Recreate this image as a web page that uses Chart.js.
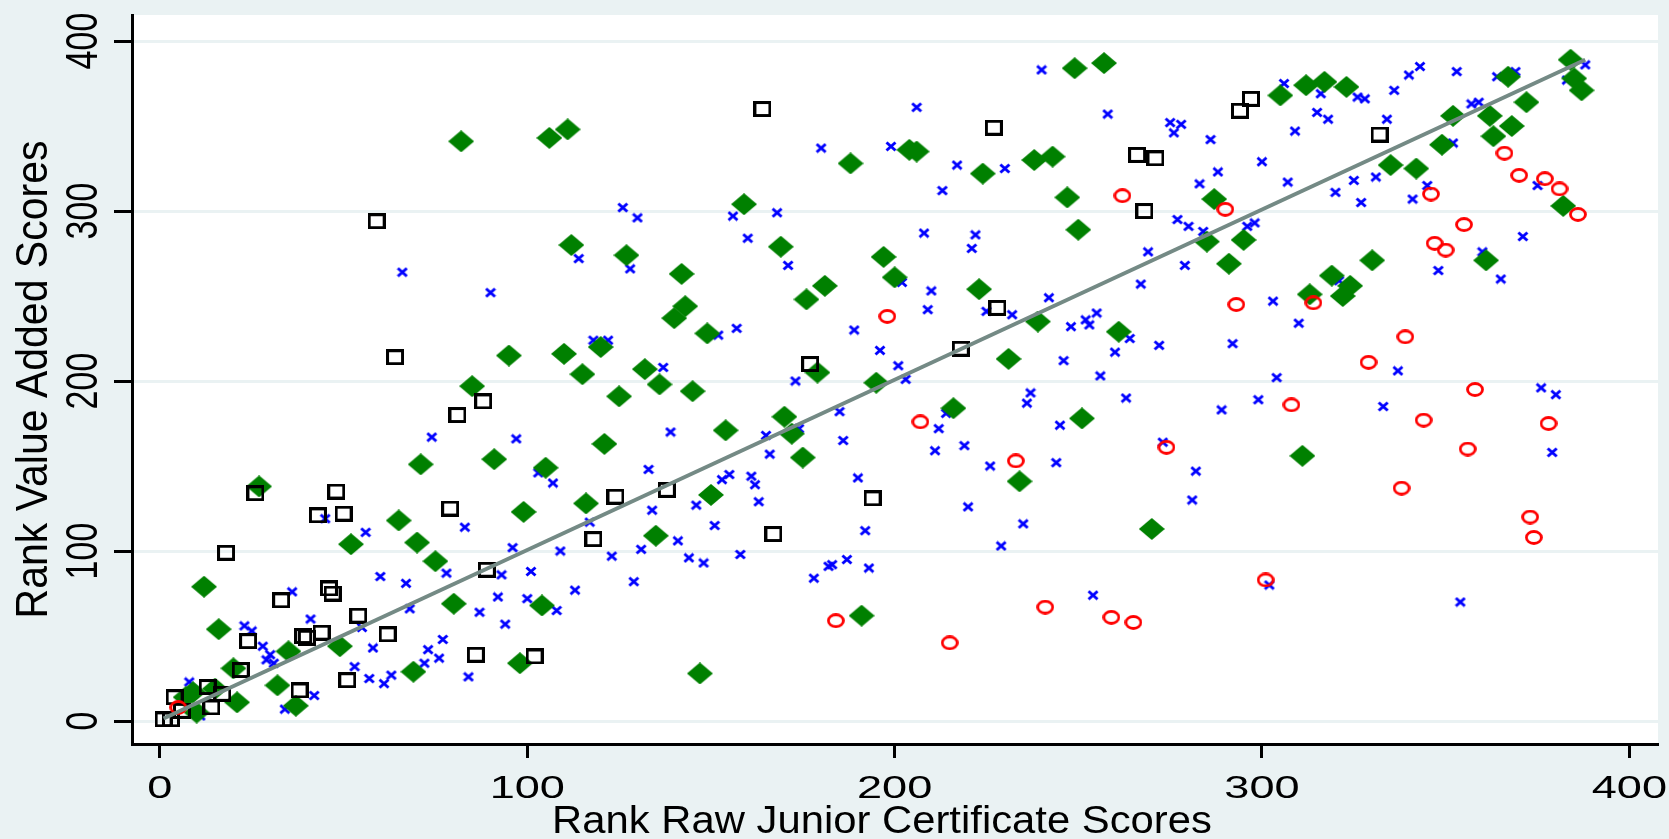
<!DOCTYPE html>
<html>
<head>
<meta charset="utf-8">
<script src="https://cdn.jsdelivr.net/npm/chart.js@4"></script>
<style>
  html, body { margin: 0; padding: 0; background: #eaf2f3; }
  #wrap { width: 1669px; height: 839px; }
</style>
</head>
<body>
<div id="wrap"><canvas id="myChart" width="1669" height="839"></canvas></div>
<script>
// ranks [raw JC score rank, value added rank] per group
const crossPts = [
  [180,337],[199,338],[126,302],[130,296],[156,297],[168,299],[160,284],[114,272],[171,268],
  [240,383],[206,361],[217,327],[230,325],[213,312],[258,357],[275,352],[278,351],[276,346],[286,342],
  [300,329],[288,323],[283,316],[208,287],[222,286],[221,278],[277,295],[280,291],[284,288],[296,291],
  [298,293],[269,276],
  [306,375],[316,369],[326,367],[328,366],[315,358],[318,354],[309,347],[336,371],[340,380],[343,385],
  [353,382],[364,379],[369,382],[388,386],[383,377],[334,354],[357,363],[359,364],[352,340],[375,315],
  [307,317],[320,311],[325,318],[331,320],[327,305],[341,307],[345,315],[371,285],[360,276],
  [66,264],[90,252],[74,167],[97,166],
  [128,266],[157,231],[152,227],[189,230],[196,218],[118,224],[122,224],[137,208],[173,200],[185,182],
  [174,172],[165,168],[186,165],[139,170],[166,157],[133,148],[103,146],[107,140],[153,142],[155,145],
  [161,144],[162,139],[190,143],[163,129],
  [279,268],[202,258],[210,253],[209,242],[225,241],[232,239],[242,249],[267,257],[248,232],[252,236],
  [253,233],[255,240],[264,225],[260,217],[272,221],[303,247],[292,222],[201,209],[203,201],[246,212],
  [256,203],[237,193],[236,187],[263,190],[289,183],[299,189],[214,181],[212,172],[245,174],[211,159],
  [219,162],[226,150],[244,152],[273,164],[282,147],[281,130],
  [348,265],[365,260],[321,259],[310,234],[337,206],[304,202],[376,196],[380,192],[333,185],[379,158],
  [45,119],[83,114],[56,111],[96,102],[78,87],[93,86],[60,85],[67,81],[36,76],[92,73],[68,66],[87,64],
  [41,60],[94,57],[23,56],[25,53],[55,55],[28,44],[30,39],[29,36],[31,34],[53,32],[58,43],[73,42],
  [77,48],[76,37],[72,34],[84,26],[57,25],[61,22],[63,27],[42,15],[34,7],[8,23],[11,3],
  [134,124],[146,127],[117,117],[109,100],[123,97],[131,101],[141,106],[151,115],[144,96],[148,93],
  [158,98],[101,88],[129,82],[100,72],[108,65],[113,77],[192,112],[178,84],[182,91],[183,92],[187,95],
  [193,90],
  [220,126],[235,116],[229,103],[302,80],[254,74],[354,70]
];
const diamondPts = [
  [82,341],[106,343],[111,348],[188,328],[159,304],[169,279],[112,280],[127,274],[197,273],
  [249,384],[257,387],[204,336],[206,335],[224,322],[238,330],[243,332],[247,308],[287,307],[250,289],
  [285,282],[295,283],[291,269],
  [305,368],[312,374],[317,376],[323,373],[367,379],[384,389],[385,378],[387,371],[352,356],[362,356],
  [372,364],[368,350],[363,344],[349,339],[382,303],[335,327],[342,325],[330,271],[361,271],
  [95,215],[85,197],[71,151],[91,154],[27,138],
  [142,263],[200,261],[181,256],[176,248],[143,244],[140,237],[149,228],[110,216],[120,220],[115,204],
  [132,207],[136,198],[145,194],[125,191],[179,205],[195,199],[170,179],[172,169],[154,171],[121,163],
  [175,155],[105,149],[150,133],[116,128],
  [223,254],[239,235],[261,229],[231,213],[216,184],[251,178],[234,141],
  [319,262],[324,256],[322,250],[313,251],[311,156],
  [65,118],[52,104],[70,105],[75,94],[12,79],[80,69],[16,54],[49,44],[35,41],[20,31],[69,29],[32,21],
  [37,9],[15,19],[9,17],[21,11],[10,5],[7,14],
  [99,123],[135,109],[104,68],[98,34],[147,28],[191,62],[270,113]
];
const squarePts = [
  [59,294],[164,360],[227,349],[266,333],[271,331],[297,366],[294,359],[268,300],[332,345],
  [64,214],[88,188],[81,180],[26,134],[48,135],[177,210],[124,132],[138,136],[194,131],[218,219],[228,243],
  [43,121],[50,122],[79,125],[18,99],[89,89],[46,78],[47,75],[33,71],[54,62],[24,47],[39,50],[40,49],
  [44,52],[62,51],[86,39],[22,30],[51,24],[38,18],[13,20],[17,16],[4,14],[14,8],[6,6],[1,1],[3,1],
  [118,107],[167,110],[102,38]
];
const ringPts = [
  [262,309],[290,301],[366,334],[370,321],[377,319],[381,313],[386,298],[346,310],[355,292],[347,281],
  [350,277],[198,238],[293,245],[207,176],[233,153],[274,161],[314,246],[339,226],[329,211],[358,195],
  [308,186],[344,177],[378,175],[356,160],[338,137],[5,8],[184,59],[301,83],[241,67],[259,61],[265,58],
  [215,46],[373,120],[374,108]
];
const fitX = [1, 388];
const fitY = [1.5, 389];

const xTicks = [0, 100, 200, 300, 400];
const yTicks = [0, 100, 200, 300, 400];
const xTitle = "Rank Raw Junior Certificate Scores";
const yTitle = "Rank Value Added Scores";

const toXY = (pts) => pts.map((p) => ({ x: p[0], y: p[1] }));

// marker glyphs (the original has slightly wide markers)
function marker(w, h, draw) {
  const c = document.createElement("canvas");
  c.width = w;
  c.height = h;
  draw(c.getContext("2d"), w, h);
  return c;
}
const diamond = marker(26, 22, (g, w, h) => {
  g.fillStyle = "#008000";
  g.beginPath();
  g.moveTo(w / 2, 0);
  g.lineTo(w, h / 2);
  g.lineTo(w / 2, h);
  g.lineTo(0, h / 2);
  g.closePath();
  g.fill();
});
const square = marker(18, 16, (g, w, h) => {
  g.strokeStyle = "#000";
  g.lineWidth = 3;
  g.strokeRect(1.5, 1.5, w - 3, h - 3);
});
const ring = marker(18, 15, (g, w, h) => {
  g.strokeStyle = "#ff0000";
  g.lineWidth = 2.8;
  g.beginPath();
  g.ellipse(w / 2, h / 2, w / 2 - 1.5, h / 2 - 1.5, 0, 0, 2 * Math.PI);
  g.stroke();
});
const cross = marker(12, 11, (g, w, h) => {
  g.strokeStyle = "#0000ff";
  g.lineWidth = 3;
  g.beginPath();
  g.moveTo(1.5, 1.5);
  g.lineTo(w - 1.5, h - 1.5);
  g.moveTo(w - 1.5, 1.5);
  g.lineTo(1.5, h - 1.5);
  g.stroke();
});

const FONT = '"Liberation Sans", Arial, sans-serif';

// draws text with a horizontal/vertical stretch like the original image
function stretchedText(ctx, str, x, y, size, sx, sy, rotate) {
  ctx.save();
  ctx.translate(x, y);
  if (rotate) ctx.rotate(-Math.PI / 2);
  ctx.scale(sx, sy);
  ctx.font = size + "px " + FONT;
  ctx.fillStyle = "#000";
  ctx.textAlign = "center";
  ctx.textBaseline = "alphabetic";
  ctx.fillText(str, 0, 0);
  ctx.restore();
}

const framePlugin = {
  id: "frame",
  beforeDraw(chart) {
    const { ctx, chartArea: a } = chart;
    ctx.save();
    ctx.fillStyle = "#eaf2f3";
    ctx.fillRect(0, 0, chart.width, chart.height);
    ctx.fillStyle = "#ffffff";
    ctx.fillRect(a.left, a.top, a.right - a.left, a.bottom - a.top);
    ctx.restore();
  },
  afterDraw(chart) {
    const ctx = chart.ctx;
    const xs = chart.scales.x;
    const ys = chart.scales.y;
    xTicks.forEach((v) => {
      stretchedText(ctx, String(v), xs.getPixelForValue(v), 798, 32, 1.41, 1, false);
    });
    yTicks.forEach((v) => {
      stretchedText(ctx, String(v), 97, ys.getPixelForValue(v), 34, 1, 1.31, true);
    });
    stretchedText(ctx, yTitle, 47, (chart.chartArea.top + chart.chartArea.bottom) / 2, 41, 1, 1.08, true);
    stretchedText(ctx, xTitle, 882, 833, 38, 1.1, 1, false);
  },
};

const ctx = document.getElementById("myChart");
new Chart(ctx, {
  type: "scatter",
  data: {
    datasets: [
      {
        type: "line",
        label: "Fitted",
        data: fitX.map((x, i) => ({ x: x, y: fitY[i] })),
        borderColor: "#748a85",
        borderWidth: 4,
        pointRadius: 0,
        fill: false,
      },
      { label: "Group 4", data: toXY(ringPts), pointStyle: ring, pointRadius: 5 },
      { label: "Group 3", data: toXY(squarePts), pointStyle: square, pointRadius: 5 },
      { label: "Group 2", data: toXY(diamondPts), pointStyle: diamond, pointRadius: 5 },
      { label: "Group 1", data: toXY(crossPts), pointStyle: cross, pointRadius: 5 },
    ],
  },
  options: {
    responsive: false,
    devicePixelRatio: 1,
    animation: false,
    layout: { padding: { top: 15, right: 11, left: 0, bottom: 0 } },
    plugins: {
      legend: { display: false },
      tooltip: { enabled: false },
    },
    scales: {
      x: {
        type: "linear",
        min: -7.6,
        max: 407.8,
        afterBuildTicks: (s) => { s.ticks = xTicks.map((v) => ({ value: v })); },
        afterFit: (s) => { s.height = 95; },
        ticks: { display: false },
        grid: {
          drawOnChartArea: false,
          drawTicks: true,
          tickLength: 14,
          tickWidth: 3,
          tickColor: "#000",
        },
        border: { display: true, color: "#000", width: 3 },
      },
      y: {
        type: "linear",
        min: -13.5,
        max: 415.3,
        afterBuildTicks: (s) => { s.ticks = yTicks.map((v) => ({ value: v })); },
        afterFit: (s) => { s.width = 132; },
        ticks: { display: false },
        grid: {
          color: "#eaf2f3",
          lineWidth: 3,
          drawTicks: true,
          tickLength: 18,
          tickWidth: 3,
          tickColor: "#000",
        },
        border: { display: true, color: "#000", width: 3 },
      },
    },
  },
  plugins: [framePlugin],
});
</script>
</body>
</html>
